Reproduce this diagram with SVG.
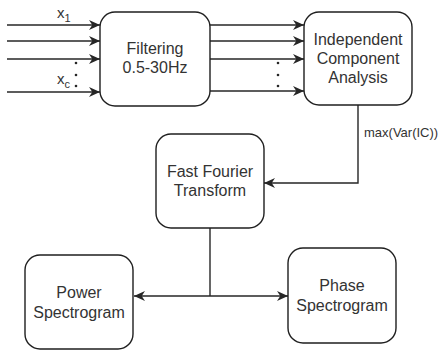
<svg xmlns="http://www.w3.org/2000/svg" width="442" height="350" viewBox="0 0 442 350">
  <defs>
    <style>
      .box { fill: #ffffff; stroke: #1f1f1f; stroke-width: 1.4; }
      .edge { fill: none; stroke: #262626; stroke-width: 1.4; }
      .lbl { font-family: "Liberation Sans", Arial, sans-serif; font-size: 16px; fill: #333333; text-anchor: middle; }
      .small { font-family: "Liberation Sans", Arial, sans-serif; font-size: 13px; fill: #333333; }
      .var { font-family: "Liberation Sans", Arial, sans-serif; font-size: 15px; fill: #333333; }
      .sub { font-size: 11px; }
      .dot { fill: #262626; }
    </style>
    <marker id="arrow" viewBox="0 0 10 10" refX="10" refY="5" markerWidth="11" markerHeight="11" markerUnits="userSpaceOnUse" orient="auto">
      <path d="M0,0.5 L10,5 L0,9.5 L3,5 Z" fill="#262626"/>
    </marker>
  </defs>

  <rect width="442" height="350" fill="#ffffff"/>

  <!-- connectors -->
  <g id="connectors">
    <!-- input channels into the filter -->
    <line class="edge" x1="7" y1="25" x2="100" y2="25" marker-end="url(#arrow)"/>
    <line class="edge" x1="7" y1="41" x2="100" y2="41" marker-end="url(#arrow)"/>
    <line class="edge" x1="7" y1="59" x2="100" y2="59" marker-end="url(#arrow)"/>
    <line class="edge" x1="7" y1="92" x2="100" y2="92" marker-end="url(#arrow)"/>
    <!-- filtered channels into ICA -->
    <line class="edge" x1="210" y1="25" x2="304" y2="25" marker-end="url(#arrow)"/>
    <line class="edge" x1="210" y1="41" x2="304" y2="41" marker-end="url(#arrow)"/>
    <line class="edge" x1="210" y1="59" x2="304" y2="59" marker-end="url(#arrow)"/>
    <line class="edge" x1="210" y1="91" x2="304" y2="91" marker-end="url(#arrow)"/>
    <!-- ICA to FFT -->
    <polyline class="edge" points="358,105 358,183 264,183" marker-end="url(#arrow)"/>
    <!-- FFT to spectrograms -->
    <line class="edge" x1="210" y1="228" x2="210" y2="296"/>
    <line class="edge" x1="210" y1="296" x2="134" y2="296" marker-end="url(#arrow)"/>
    <line class="edge" x1="210" y1="296" x2="288" y2="296" marker-end="url(#arrow)"/>

    <!-- channel labels and ellipsis dots -->
    <text class="var" x="57" y="18">x<tspan class="sub" dy="4">1</tspan></text>
    <text class="var" x="57" y="84">x<tspan class="sub" dy="4">c</tspan></text>
    <circle class="dot" cx="76" cy="63" r="1.3"/>
    <circle class="dot" cx="76" cy="75" r="1.3"/>
    <circle class="dot" cx="76" cy="86" r="1.3"/>
    <circle class="dot" cx="278" cy="63" r="1.3"/>
    <circle class="dot" cx="278" cy="75" r="1.3"/>
    <circle class="dot" cx="278" cy="86" r="1.3"/>

    <text class="small" x="364" y="137">max(Var(IC))</text>
  </g>

  <g id="filtering">
    <rect class="box" x="100" y="12" width="110" height="94" rx="15"/>
    <text class="lbl" x="155" y="54">Filtering</text>
    <text class="lbl" x="155" y="73">0.5-30Hz</text>
  </g>

  <g id="ica">
    <rect class="box" x="304" y="12" width="108" height="93" rx="15"/>
    <text class="lbl" x="358" y="45">Independent</text>
    <text class="lbl" x="358" y="64">Component</text>
    <text class="lbl" x="358" y="83">Analysis</text>
  </g>

  <g id="fft">
    <rect class="box" x="156" y="134" width="108" height="94" rx="15"/>
    <text class="lbl" x="210" y="177">Fast Fourier</text>
    <text class="lbl" x="210" y="196">Transform</text>
  </g>

  <g id="power">
    <rect class="box" x="25" y="255" width="108" height="94" rx="15"/>
    <text class="lbl" x="79" y="298">Power</text>
    <text class="lbl" x="79" y="318">Spectrogram</text>
  </g>

  <g id="phase">
    <rect class="box" x="288" y="248" width="108" height="95" rx="15"/>
    <text class="lbl" x="342" y="291">Phase</text>
    <text class="lbl" x="342" y="311">Spectrogram</text>
  </g>
</svg>
